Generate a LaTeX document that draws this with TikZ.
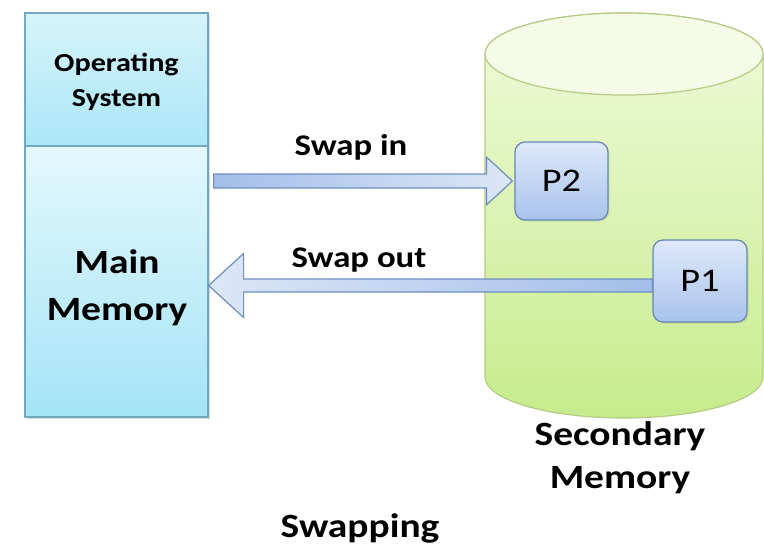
\documentclass[tikz,border=0pt]{standalone}
\usepackage{fontspec}
\setmainfont{Carlito}[FakeStretch=1.16]
\usetikzlibrary{calc,shadows}
\definecolor{mmborder}{HTML}{72A9BC}
\definecolor{osTop}{HTML}{D6F3FB}
\definecolor{osBot}{HTML}{ABE7F7}
\definecolor{mmTop}{HTML}{E4F8FD}
\definecolor{mmBot}{HTML}{A4E4F6}
\definecolor{cylTop}{HTML}{F0FADB}
\definecolor{cylBot}{HTML}{C6EC8C}
\definecolor{cylEnd}{HTML}{F5FBE7}
\definecolor{cylBorder}{HTML}{B4CC86}
\definecolor{pTop}{HTML}{DEE9FA}
\definecolor{pBot}{HTML}{A8C3EC}
\definecolor{pBorder}{HTML}{6586B6}
\definecolor{arDark}{HTML}{A3BEE9}
\definecolor{arLight}{HTML}{DCE7F7}
\definecolor{arBorder}{HTML}{6E8FBF}
\begin{document}
\begin{tikzpicture}[x=0.75pt,y=-0.75pt,
  softshadow/.style={drop shadow={opacity=0.18, shadow xshift=1.2pt, shadow yshift=-1.2pt}},
  memblock/.style={rectangle, draw=mmborder, line width=0.9pt, inner sep=0pt, minimum width=183*0.75pt},
  proc/.style={rectangle, draw=pBorder, line width=0.9pt, rounded corners=7.5pt, top color=pTop, bottom color=pBot, inner sep=0pt, softshadow, font=\fontsize{24.75}{30}\selectfont},
  lbl/.style={font=\bfseries\fontsize{22.5}{27}\selectfont, inner sep=0pt, anchor=base},
  bigtxt/.style={font=\bfseries\fontsize{25.5}{35.25}\selectfont, align=center, inner sep=0pt, anchor=base},
  ostxt/.style={font=\bfseries\fontsize{19.5}{26.25}\selectfont, align=center, inner sep=0pt, anchor=base},
  blockarrow/.style={draw=arBorder, line width=0.9pt, line join=miter}
]
\useasboundingbox (0,0) rectangle (764,547);
\fill[white] (0,0) rectangle (764,547);

% main memory
\fill[black, opacity=0.15] (27,15) rectangle (210,419);
\node[memblock, minimum height=133*0.75pt, top color=osTop, bottom color=osBot] (os) at (116.5,79.5) {};
\node[memblock, minimum height=271*0.75pt, top color=mmTop, bottom color=mmBot] (mm) at (116.5,281.5) {};
\node[ostxt] (ostext) at (116.5,106) {Operating\\System};
\node[bigtxt] (mmtext) at (117,320) {Main\\Memory};

% secondary memory cylinder
\path[draw=cylBorder, line width=0.9pt, top color=cylTop, bottom color=cylBot]
  (485,54) -- (485,377) arc[start angle=180, end angle=0, x radius=139, y radius=41]
  -- (763,54) arc[start angle=0, end angle=-180, x radius=139, y radius=41] -- cycle;
\draw[cylBorder, line width=0.9pt, fill=cylEnd] (624,54) ellipse[x radius=139, y radius=41];

% processes
\node[proc, minimum width=93*0.75pt, minimum height=78*0.75pt] (p2) at (561.5,181) {P2};
\node[proc, minimum width=94*0.75pt, minimum height=82*0.75pt] (p1) at (700,281) {P1};

% swap in arrow
\coordinate (si) at ($(mm.east|-p2.west)+(5,0)$);
\path[blockarrow, left color=arDark, right color=arLight]
  ($(si)+(0,-7)$) -- ($(p2.west)+(-28,-7)$) -- ($(p2.west)+(-28,-24)$) -- ($(p2.west)+(-2,0)$)
  -- ($(p2.west)+(-28,24)$) -- ($(p2.west)+(-28,7)$) -- ($(si)+(0,7)$) -- cycle;

% swap out arrow
\coordinate (so) at ($(p1.west)+(0,4.5)$);
\coordinate (sot) at (mm.east|-so);
\path[blockarrow, left color=arLight, right color=arDark]
  ($(so)+(0,-6.5)$) -- ($(sot)+(35,-6.5)$) -- ($(sot)+(35,-32)$) -- (sot)
  -- ($(sot)+(35,32)$) -- ($(sot)+(35,6.5)$) -- ($(so)+(0,6.5)$) -- cycle;

% labels
\node[lbl] (swin) at (351,155) {Swap in};
\node[lbl] (swout) at (359,267) {Swap out};
\node[bigtxt, font=\bfseries\fontsize{25.5}{32.25}\selectfont] (smtext) at (620,488) {Secondary\\Memory};
\node[bigtxt] (title) at (360,537) {Swapping};
\end{tikzpicture}
\end{document}
